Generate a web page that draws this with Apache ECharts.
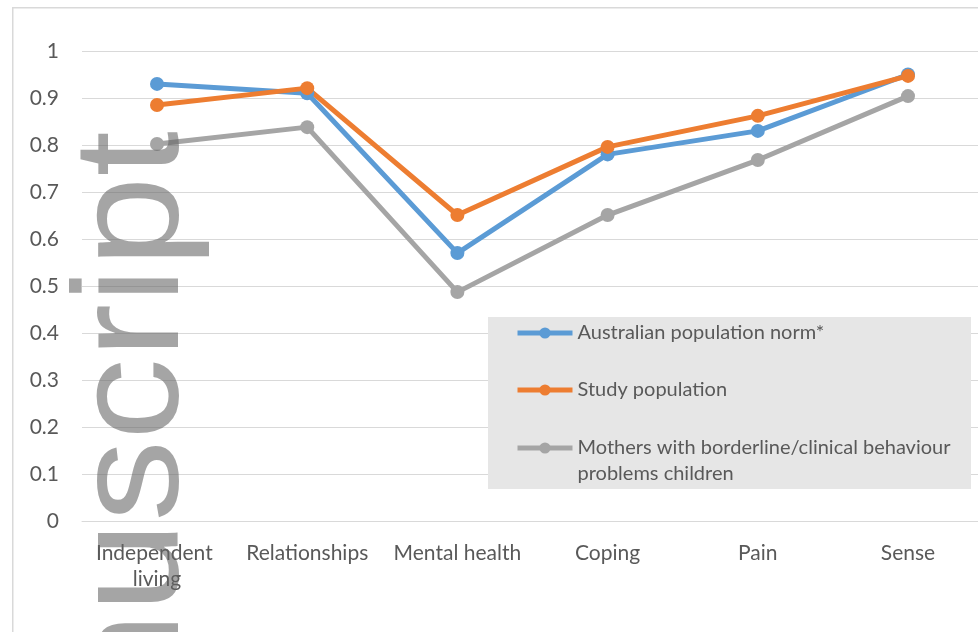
<!DOCTYPE html>
<html><head><meta charset="utf-8">
<script src="https://cdn.jsdelivr.net/npm/echarts@6/dist/echarts.min.js"></script>
<style>html,body{margin:0;padding:0;background:#fff}#c{width:978px;height:632px}</style>
</head><body><div id="c"></div>
<script>
const categories = ['Independent living','Relationships','Mental health','Coping','Pain','Sense'];
const australianNorm = [0.93, 0.91, 0.57, 0.78, 0.83, 0.95];
const studyPopulation = [0.885, 0.921, 0.651, 0.796, 0.862, 0.947];
const mothersBorderline = [0.802, 0.838, 0.487, 0.651, 0.768, 0.904];
const yTicks = [0, 0.1, 0.2, 0.3, 0.4, 0.5, 0.6, 0.7, 0.8, 0.9, 1];
const seriesNames = ['Australian population norm*', 'Study population', 'Mothers with borderline/clinical behaviour problems children'];
const colors = ['#5B9BD5', '#ED7D31', '#A5A5A5'];
const font = 'Lato, "Open Sans", sans-serif';

const chart = echarts.init(document.getElementById('c'), null, {renderer: 'canvas'});
const mk = (name, data, color) => ({
  name, type: 'line', data, color, xAxisIndex: 1, yAxisIndex: 1,
  symbol: 'circle', symbolSize: 14,
  lineStyle: {width: 5, color},
  itemStyle: {color},
  emphasis: {disabled: true}, animation: false
});
const legendText = {color: '#595959', fontFamily: font, fontSize: 20, lineHeight: 26};
chart.setOption({
  animation: false,
  grid: [
    {left: 82, right: 0, top: 51, bottom: 111, containLabel: false, outerBoundsMode: 'none'},
    {left: 157, width: 751, top: 51, bottom: 111, containLabel: false, outerBoundsMode: 'none'}
  ],
  xAxis: [
    {type: 'category', gridIndex: 0, data: categories, boundaryGap: true,
      axisLine: {show: true, lineStyle: {color: '#d9d9d9', width: 1}},
      axisTick: {show: false}, axisLabel: {show: false}},
    {type: 'category', gridIndex: 1, data: categories, boundaryGap: false,
      axisLine: {show: false}, axisTick: {show: false}, splitLine: {show: false},
      axisLabel: {color: '#595959', fontFamily: font, fontSize: 21, margin: 19, lineHeight: 26,
        width: 148, overflow: 'break', interval: 0}}
  ],
  yAxis: [
    {type: 'value', gridIndex: 0, min: 0, max: 1, interval: 0.1,
      axisLine: {show: false}, axisTick: {show: false},
      splitLine: {lineStyle: {color: '#d9d9d9', width: 1}},
      axisLabel: {color: '#595959', fontFamily: font, fontSize: 21, margin: 23,
        formatter: v => { const t = yTicks.find(x => Math.abs(x - v) < 1e-9); return String(t !== undefined ? t : v); } }},
    {type: 'value', gridIndex: 1, min: 0, max: 1, interval: 0.1, show: false,
      splitLine: {show: false}}
  ],
  legend: [
    {data: [seriesNames[0], seriesNames[1]], orient: 'vertical', left: 515, top: 320,
      itemWidth: 55, itemHeight: 14, itemGap: 31, padding: 0,
      lineStyle: {width: 5}, textStyle: legendText},
    {data: [seriesNames[2]], orient: 'vertical', left: 515, top: 409,
      itemWidth: 55, itemHeight: 14, padding: 0, lineStyle: {width: 5},
      formatter: n => '\n' + n.replace(' problems', '\nproblems'),
      textStyle: legendText}
  ],
  graphic: [
    {type: 'rect', left: 12, top: 7, z: -10, shape: {width: 1000, height: 700},
      style: {fill: '#fff', stroke: '#d9d9d9', lineWidth: 1.5}},
    {type: 'rect', left: 488, top: 317, z: 1, shape: {width: 483, height: 172},
      style: {fill: '#e6e6e6'}},
    {type: 'text', x: 62, y: 131, rotation: Math.PI / 2, scaleX: 1.09, z: 100, silent: true,
      style: {text: 'Manuscript', fill: 'rgba(100,100,100,0.58)', font: '150px "Liberation Sans", Arial, sans-serif',
        align: 'right', verticalAlign: 'top'}}
  ],
  series: [
    mk(seriesNames[0], australianNorm, colors[0]),
    mk(seriesNames[1], studyPopulation, colors[1]),
    mk(seriesNames[2], mothersBorderline, colors[2])
  ]
});
</script></body></html>
